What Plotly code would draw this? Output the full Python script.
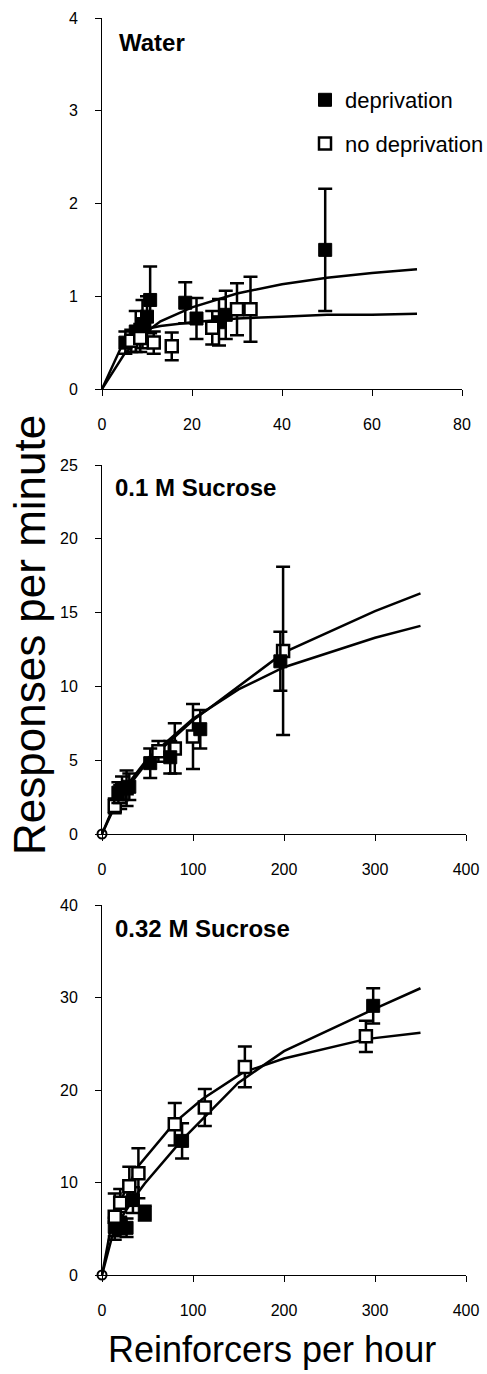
import plotly.graph_objects as go

# ---------------- Data ----------------
# Panel 1: Water
water_dep_x = [5.2, 7.5, 9.0, 10.0, 10.7, 18.5, 21.0, 26.0, 27.5, 49.6]
water_dep_y = [0.50, 0.62, 0.70, 0.78, 0.96, 0.93, 0.76, 0.72, 0.80, 1.50]
water_dep_err = [0.12, 0.22, 0.26, 0.22, 0.36, 0.22, 0.22, 0.25, 0.26, 0.66]
water_nodep_x = [6.5, 8.5, 11.5, 15.5, 24.5, 30.0, 33.0]
water_nodep_y = [0.52, 0.55, 0.50, 0.46, 0.66, 0.86, 0.86]
water_nodep_err = [0.12, 0.15, 0.12, 0.15, 0.18, 0.28, 0.35]
water_fit_x = [0, 5, 10, 13, 20, 30, 40, 50, 60, 70]
water_fit_dep_y = [0, 0.38, 0.62, 0.73, 0.88, 1.03, 1.13, 1.20, 1.25, 1.29]
water_fit_nodep_y = [0, 0.53, 0.65, 0.68, 0.72, 0.76, 0.78, 0.80, 0.80, 0.81]

# Panel 2: 0.1 M Sucrose
suc1_dep_x = [18, 22, 30, 53, 75, 108, 196]
suc1_dep_y = [2.8, 3.1, 3.2, 4.8, 5.2, 7.1, 11.7]
suc1_dep_err = [0.7, 0.8, 0.9, 1.0, 1.1, 1.3, 2.0]
suc1_nodep_x = [14, 20, 27, 62, 80, 100, 199]
suc1_nodep_y = [1.9, 2.5, 3.1, 5.6, 5.8, 6.6, 12.4]
suc1_nodep_err = [0.5, 0.8, 1.2, 0.7, 1.7, 2.2, 5.7]
suc1_fit_x = [0, 15, 30, 50, 100, 150, 200, 300, 350]
suc1_fit_a_y = [0, 2.0, 3.3, 4.9, 7.7, 10.0, 12.3, 15.1, 16.3]
suc1_fit_b_y = [0, 2.2, 3.5, 5.1, 7.8, 9.8, 11.3, 13.3, 14.1]

# Panel 3: 0.32 M Sucrose
suc3_dep_x = [14, 20, 27, 34, 47, 88, 298]
suc3_dep_y = [5.2, 5.6, 5.1, 8.1, 6.7, 14.5, 29.1]
suc3_dep_err = [1.0, 1.2, 1.0, 1.4, 0.8, 1.9, 1.9]
suc3_nodep_x = [14, 20, 30, 40, 80, 113, 157, 290]
suc3_nodep_y = [6.3, 7.8, 9.6, 11.0, 16.3, 18.1, 22.5, 25.8]
suc3_nodep_err = [2.5, 1.5, 2.1, 2.7, 2.3, 2.0, 2.2, 1.7]
suc3_fit_dep_x = [0, 12, 20, 35, 47, 88, 150, 200, 300, 350]
suc3_fit_dep_y = [0, 4.5, 6.0, 8.3, 9.9, 14.6, 20.8, 24.2, 28.8, 31.0]
suc3_fit_nodep_x = [0, 12, 20, 30, 40, 80, 110, 155, 200, 290, 350]
suc3_fit_nodep_y = [0, 6.3, 8.0, 9.9, 11.8, 16.5, 19.0, 21.9, 23.4, 25.5, 26.2]

origin_x = [0]
origin_y = [0]

panel_titles = ["Water", "0.1 M Sucrose", "0.32 M Sucrose"]
legend_names = ["deprivation", "no deprivation"]

FONT = "Arial, Liberation Sans, Helvetica, sans-serif"
W, H = 487, 1374

fig = go.Figure()


def add_fit(x, y, xa, ya):
    fig.add_trace(go.Scatter(x=x, y=y, mode="lines", xaxis=xa, yaxis=ya,
                             line=dict(color="black", width=2.5),
                             showlegend=False, hoverinfo="skip"))


def add_points(x, y, err, xa, ya, filled, show):
    if filled:
        marker = dict(symbol="square", size=13, color="black",
                      line=dict(color="black", width=1))
        name, grp = legend_names[0], "dep"
    else:
        marker = dict(symbol="square", size=12, color="white",
                      line=dict(color="black", width=2.5))
        name, grp = legend_names[1], "nodep"
    fig.add_trace(go.Scatter(
        x=x, y=y, mode="markers", xaxis=xa, yaxis=ya, name=name,
        legendgroup=grp, showlegend=show, marker=marker,
        error_y=dict(type="data", array=err, color="black",
                     thickness=2.5, width=7)))


# Panel 1
add_fit(water_fit_x, water_fit_dep_y, "x", "y")
add_fit(water_fit_x, water_fit_nodep_y, "x", "y")
add_points(water_dep_x, water_dep_y, water_dep_err, "x", "y", True, True)
add_points(water_nodep_x, water_nodep_y, water_nodep_err, "x", "y", False, True)

# Panel 2
add_fit(suc1_fit_x, suc1_fit_a_y, "x2", "y2")
add_fit(suc1_fit_x, suc1_fit_b_y, "x2", "y2")
add_points(suc1_nodep_x, suc1_nodep_y, suc1_nodep_err, "x2", "y2", False, False)
add_points(suc1_dep_x, suc1_dep_y, suc1_dep_err, "x2", "y2", True, False)

# Panel 3
add_fit(suc3_fit_dep_x, suc3_fit_dep_y, "x3", "y3")
add_fit(suc3_fit_nodep_x, suc3_fit_nodep_y, "x3", "y3")
add_points(suc3_dep_x, suc3_dep_y, suc3_dep_err, "x3", "y3", True, False)
add_points(suc3_nodep_x, suc3_nodep_y, suc3_nodep_err, "x3", "y3", False, False)

for xa, ya in [("x2", "y2"), ("x3", "y3")]:
    fig.add_trace(go.Scatter(x=origin_x, y=origin_y, mode="markers",
                             xaxis=xa, yaxis=ya, showlegend=False,
                             cliponaxis=False,
                             marker=dict(symbol="circle-open", size=9,
                                         color="black",
                                         line=dict(width=2, color="black"))))


def py(page_y):
    return 1 - page_y / H


def px(page_x):
    return (page_x - 102) / 364


def ydom(top_px, bot_px):
    return [py(bot_px), py(top_px)]


panels = [
    dict(xdom=[0, 360 / 364], xr=[0, 80], xt=[0, 20, 40, 60, 80],
         ydom=ydom(18, 389), yr=[0, 4], yt=[0, 1, 2, 3, 4]),
    dict(xdom=[0, 1], xr=[0, 400], xt=[0, 100, 200, 300, 400],
         ydom=ydom(465, 834), yr=[0, 25], yt=[0, 5, 10, 15, 20, 25]),
    dict(xdom=[0, 1], xr=[0, 400], xt=[0, 100, 200, 300, 400],
         ydom=ydom(905, 1275), yr=[0, 40], yt=[0, 10, 20, 30, 40]),
]

layout = dict(
    width=W, height=H,
    margin=dict(l=102, r=W - 466, t=0, b=0, autoexpand=False),
    paper_bgcolor="white", plot_bgcolor="white",
    font=dict(family=FONT, color="black"),
    showlegend=True,
    legend=dict(x=px(305), y=py(79), xanchor="left", yanchor="top",
                font=dict(size=22, family=FONT, color="black"),
                bgcolor="rgba(0,0,0,0)", traceorder="grouped",
                tracegroupgap=12),
)

for i, p in enumerate(panels):
    n = "" if i == 0 else str(i + 1)
    m = str(i + 4)
    common = dict(showgrid=False, zeroline=False, color="black",
                  tickcolor="black", tickwidth=1, ticklen=6)
    layout["xaxis" + n] = dict(domain=p["xdom"], range=p["xr"],
                               tickvals=p["xt"], anchor="y" + n,
                               showline=True, linecolor="black", linewidth=1,
                               ticks="outside", ticklabelstandoff=15,
                               tickfont=dict(size=16, family=FONT), **common)
    layout["yaxis" + n] = dict(domain=p["ydom"], range=p["yr"],
                               tickvals=p["yt"], anchor="x" + n,
                               showline=True, linecolor="black", linewidth=1,
                               ticks="outside", ticklabelstandoff=14,
                               tickfont=dict(size=16, family=FONT), **common)
    # companion axes to draw the inner half of the crossing ticks
    layout["xaxis" + m] = dict(overlaying="x" + n, range=p["xr"],
                               tickvals=p["xt"], anchor="y" + n, side="bottom",
                               showline=False, ticks="inside",
                               showticklabels=False, **common)
    layout["yaxis" + m] = dict(overlaying="y" + n, range=p["yr"],
                               tickvals=p["yt"], anchor="x" + n, side="left",
                               showline=False, ticks="inside",
                               showticklabels=False, **common)

title_pos = [(117, 43), (113, 488), (113, 928)]
annotations = []
for t, (tx, ty) in zip(panel_titles, title_pos):
    annotations.append(dict(text="<b>%s</b>" % t, xref="paper", yref="paper",
                            x=px(tx), y=py(ty),
                            xanchor="left", yanchor="middle", showarrow=False,
                            font=dict(size=24, family=FONT, color="black")))
annotations.append(dict(text="Responses per minute", xref="paper", yref="paper",
                        x=px(29), y=py(635), textangle=-90,
                        xanchor="center", yanchor="middle", showarrow=False,
                        font=dict(size=44, family=FONT, color="black")))
annotations.append(dict(text="Reinforcers per hour", xref="paper", yref="paper",
                        x=px(272), y=py(1349),
                        xanchor="center", yanchor="middle", showarrow=False,
                        font=dict(size=36, family=FONT, color="black")))
layout["annotations"] = annotations

fig.update_layout(**layout)
fig.write_html("out.html",
               config={"displayModeBar": False},
               post_script="document.body.style.margin='0px';")
